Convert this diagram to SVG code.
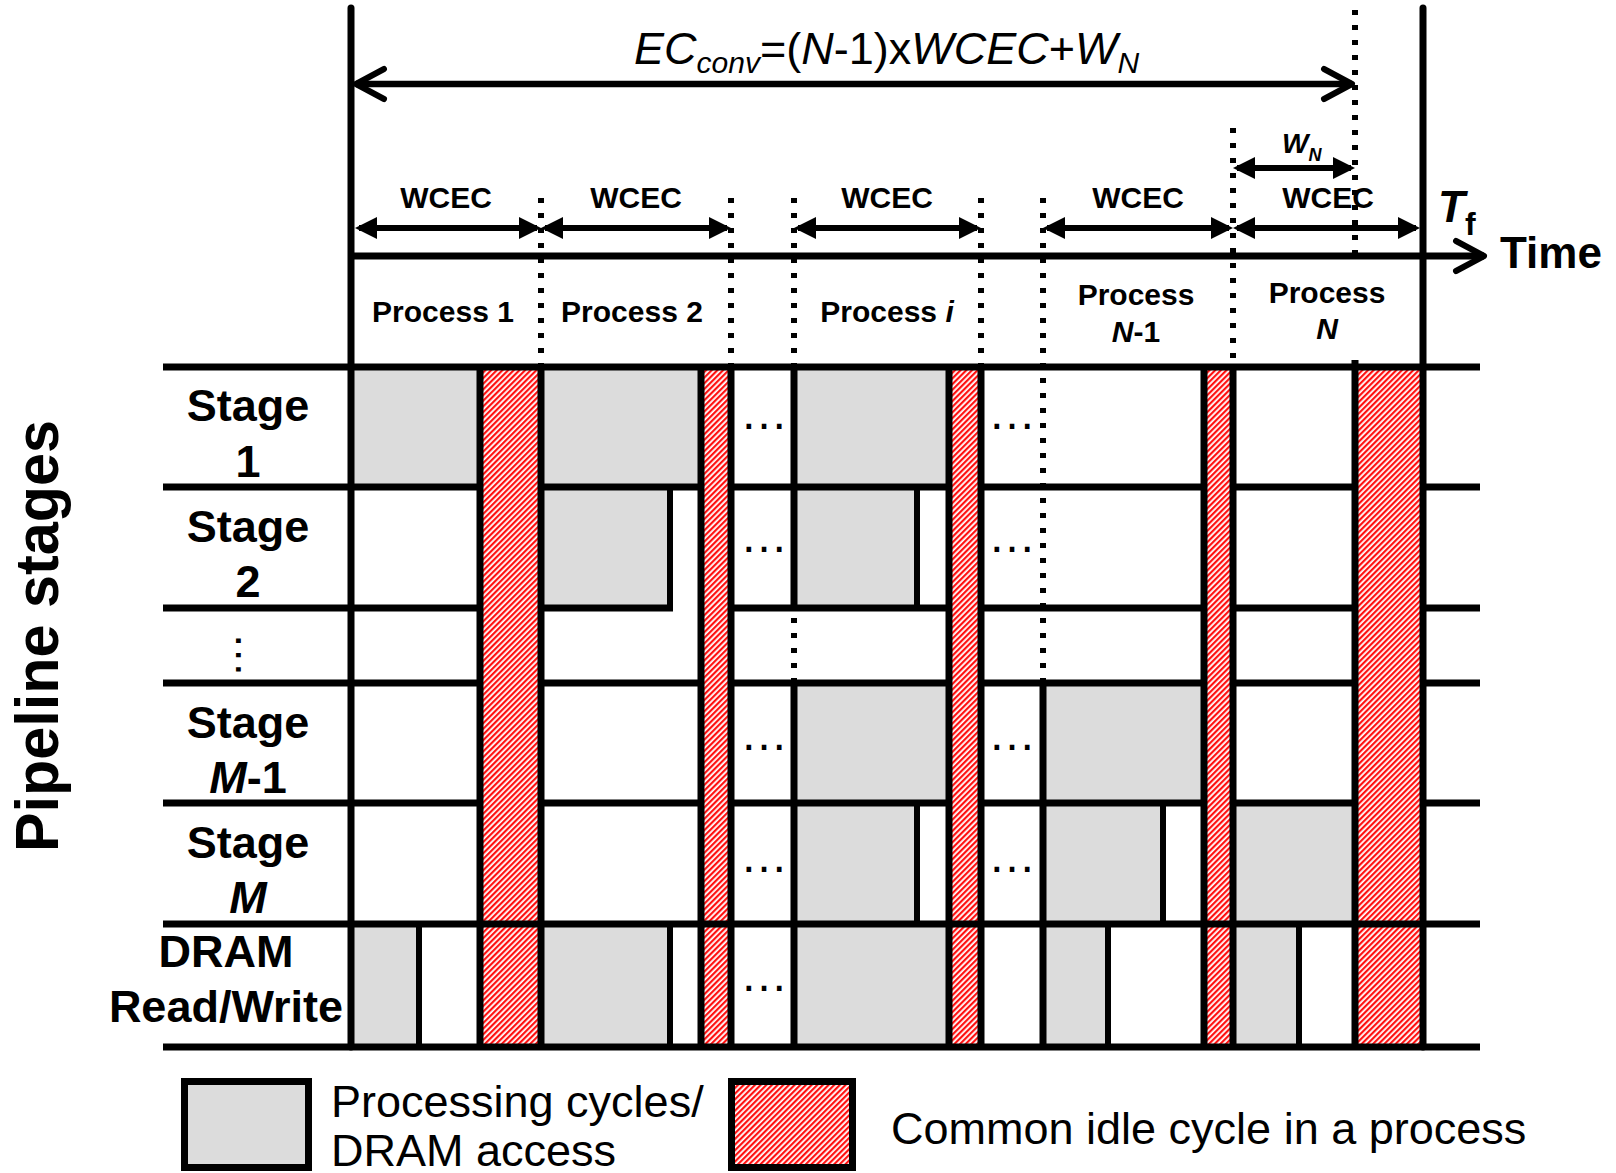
<svg xmlns="http://www.w3.org/2000/svg" width="1616" height="1173" viewBox="0 0 1616 1173">
<style>
.t{font-family:"Liberation Sans",Arial,sans-serif;fill:#000}
.b{font-weight:bold}
.i{font-style:italic}
.mid{text-anchor:middle}
.g{fill:#dcdcdc}
.r{fill:url(#hatch)}
.ln{stroke:#000;stroke-width:7;fill:none}
.thin{stroke:#000;stroke-width:6;fill:none}
.dot{stroke:#000;stroke-width:6;fill:none;stroke-dasharray:5 10}
.arr{stroke:#000;stroke-width:6;fill:none;marker-start:url(#tri);marker-end:url(#tri)}
</style>
<defs>
<pattern id="hatch" width="4" height="4" patternUnits="userSpaceOnUse" patternTransform="rotate(45)">
<rect width="4" height="4" fill="#fff"/>
<rect width="2.2" height="4" fill="#ff1010"/>
</pattern>
<marker id="tri" viewBox="0 0 22 22" markerWidth="22" markerHeight="22" refX="18" refY="11" orient="auto-start-reverse" markerUnits="userSpaceOnUse"><path d="M0,0 L22,11 L0,22 Z" fill="#000"/></marker>
<marker id="chev" viewBox="-34 -20 40 40" markerWidth="40" markerHeight="40" refX="0" refY="0" orient="auto-start-reverse" markerUnits="userSpaceOnUse"><path d="M-28,-15 L0,0 L-28,15" fill="none" stroke="#000" stroke-width="6" stroke-linecap="round" stroke-linejoin="round"/></marker>
</defs>
<rect width="1616" height="1173" fill="#fff"/>

<g id="cells">
<rect class="g" x="351" y="367" width="129" height="120"/>
<rect class="g" x="541" y="367" width="160" height="120"/>
<rect class="g" x="794" y="367" width="155" height="120"/>
<rect class="g" x="541" y="487" width="129" height="121"/>
<rect class="g" x="794" y="487" width="123" height="121"/>
<rect class="g" x="794" y="683" width="155" height="120"/>
<rect class="g" x="1043" y="683" width="161" height="120"/>
<rect class="g" x="794" y="803" width="123" height="121"/>
<rect class="g" x="1043" y="803" width="120" height="121"/>
<rect class="g" x="1233" y="803" width="122" height="121"/>
<rect class="g" x="351" y="924" width="68" height="123"/>
<rect class="g" x="541" y="924" width="129" height="123"/>
<rect class="g" x="794" y="924" width="155" height="123"/>
<rect class="g" x="1043" y="924" width="65" height="123"/>
<rect class="g" x="1233" y="924" width="66" height="123"/>
</g>

<g id="grid-rows">
<path class="ln" d="M163,487H480M541,487H701M731,487H949M981,487H1204M1233,487H1355M1423,487H1480"/>
<path class="ln" d="M163,608H480M541,608H673M731,608H949M981,608H1204M1233,608H1355M1423,608H1480"/>
<path class="ln" d="M163,683H480M541,683H701M731,683H949M981,683H1204M1233,683H1355M1423,683H1480"/>
<path class="ln" d="M163,803H480M541,803H701M731,803H949M981,803H1204M1233,803H1355M1423,803H1480"/>
</g>

<g id="idle-bars">
<rect class="r" x="480" y="367" width="61" height="680"/>
<rect class="r" x="701" y="367" width="30" height="680"/>
<rect class="r" x="949" y="367" width="32" height="680"/>
<rect class="r" x="1204" y="367" width="29" height="680"/>
<rect class="r" x="1355" y="367" width="68" height="680"/>
</g>

<g id="grid-lines">
<path class="ln" d="M163,367H1480M163,924H1480M163,1047H1480"/>
<path class="ln" stroke-linecap="round" d="M351,8V1047M1423,8V1047"/>
<path class="ln" d="M480,367V1047M541,367V1047M701,367V1047M731,367V1047M949,367V1047M981,367V1047M1204,367V1047M1233,367V1047M1355,360V1047"/>
<path class="ln" d="M794,367V608M794,683V1047M1043,683V1047"/>
<path class="thin" d="M670,487V608M917,487V608M917,803V924M1163,803V924M419,924V1047M670,924V1047M1108,924V1047M1299,924V1047"/>
<path class="dot" d="M541,198V367M731,198V367M794,198V683M981,198V367M1043,198V683M1233,128V367M1355,10V258"/>
</g>

<g id="connectors">
<path class="arr" d="M359,228H537"/>
<path class="arr" d="M545,228H727"/>
<path class="arr" d="M798,228H977"/>
<path class="arr" d="M1047,228H1229"/>
<path class="arr" d="M1237,228H1416"/>
<path class="arr" d="M1237,168H1351"/>
<path stroke="#000" stroke-width="6.5" fill="none" marker-start="url(#chev)" marker-end="url(#chev)" d="M356,84H1352"/>
<path stroke="#000" stroke-width="7" fill="none" marker-end="url(#chev)" d="M351,256H1484"/>
</g>

<g id="formula">
<text class="t" x="634" y="64" font-size="45"><tspan class="i">EC</tspan><tspan class="i" font-size="30" dy="9">conv</tspan><tspan dy="-9">=(</tspan><tspan class="i">N</tspan>-1)x<tspan class="i">WCEC</tspan>+<tspan class="i">W</tspan><tspan class="i" font-size="30" dy="9">N</tspan></text>
</g>

<g id="wcec-labels" class="t b mid" font-size="30">
<text x="446" y="208">WCEC</text>
<text x="636" y="208">WCEC</text>
<text x="887" y="208">WCEC</text>
<text x="1138" y="208">WCEC</text>
<text x="1328" y="208">WCEC</text>
</g>
<g id="wn-label"><text class="t b i" x="1282" y="153" font-size="28">W<tspan font-size="18" dy="8">N</tspan></text></g>
<g id="tf-label"><text class="t b i" x="1438" y="222" font-size="44">T<tspan font-style="normal" font-size="32" dy="13">f</tspan></text></g>
<g id="time-label"><text class="t b" x="1500" y="268" font-size="44">Time</text></g>

<g id="process-labels" class="t b mid" font-size="30">
<text x="443" y="322">Process 1</text>
<text x="632" y="322">Process 2</text>
<text x="887" y="322">Process <tspan class="i">i</tspan></text>
<text x="1136" y="305">Process</text>
<text x="1136" y="342"><tspan class="i">N</tspan>-1</text>
<text x="1327" y="303">Process</text>
<text x="1327" y="339" class="i">N</text>
</g>

<g id="stage-labels" class="t b mid" font-size="45">
<text x="248" y="421">Stage</text>
<text x="248" y="477">1</text>
<text x="248" y="542">Stage</text>
<text x="248" y="597">2</text>
<text transform="translate(236,655) rotate(90)" font-weight="normal">…</text>
<text x="248" y="738">Stage</text>
<text x="248" y="793"><tspan class="i">M</tspan>-1</text>
<text x="248" y="858">Stage</text>
<text x="248" y="913" class="i">M</text>
<text x="226" y="967">DRAM</text>
<text x="226" y="1022">Read/Write</text>
</g>

<g id="ellipses" class="t mid" font-size="48">
<text x="764" y="429">…</text>
<text x="764" y="552">…</text>
<text x="764" y="750">…</text>
<text x="764" y="872">…</text>
<text x="764" y="991">…</text>
<text x="1012" y="429">…</text>
<text x="1012" y="552">…</text>
<text x="1012" y="750">…</text>
<text x="1012" y="872">…</text>
</g>

<g id="axis-title"><text class="t b mid" font-size="62" textLength="432" lengthAdjust="spacingAndGlyphs" transform="translate(58,636) rotate(-90)">Pipeline stages</text></g>

<g id="legend-processing">
<rect x="184.5" y="1081.5" width="124" height="86" fill="#dcdcdc" stroke="#000" stroke-width="7"/>
<text class="t" x="331" y="1117" font-size="45">Processing cycles/</text>
<text class="t" x="331" y="1166" font-size="45">DRAM access</text>
</g>
<g id="legend-idle">
<rect x="731.5" y="1081.5" width="121" height="86" fill="url(#hatch)" stroke="#000" stroke-width="7"/>
<text class="t" x="891" y="1144" font-size="45">Common idle cycle in a process</text>
</g>
</svg>
